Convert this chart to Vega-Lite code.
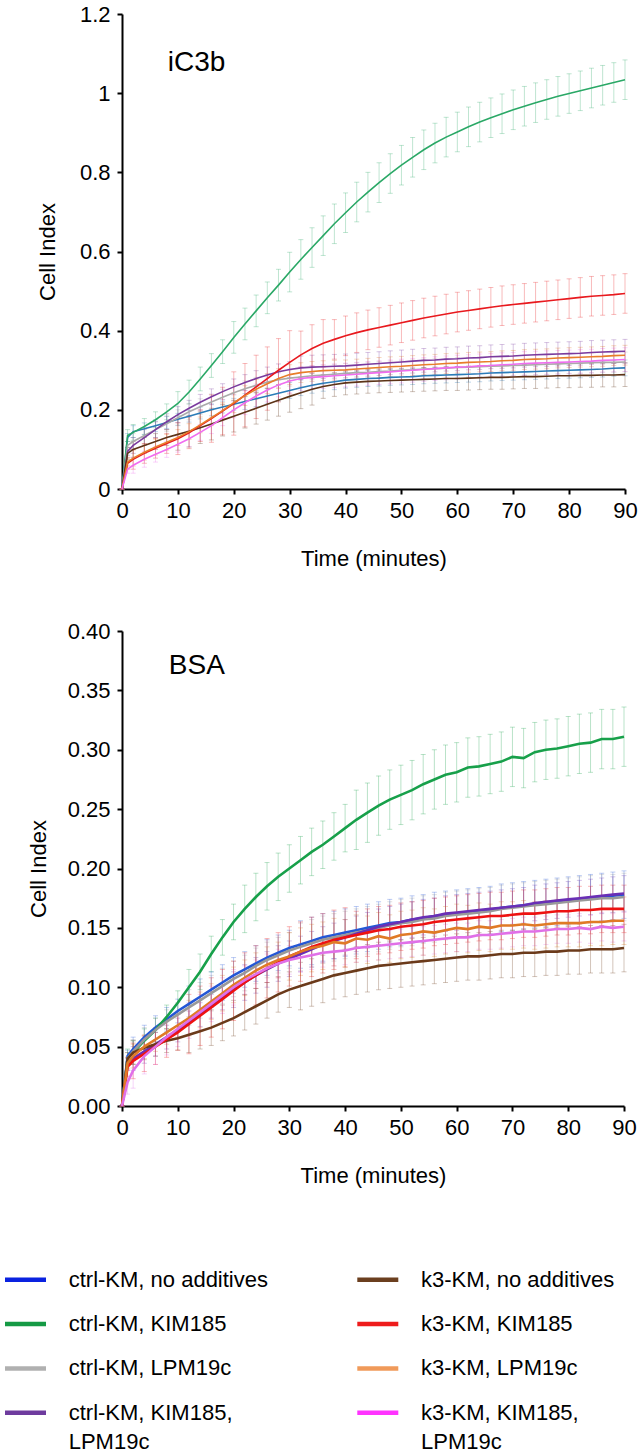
{
"$schema": "https://vega.github.io/schema/vega-lite/v6.json",
"padding": {"left": -4, "top": 3, "right": 3, "bottom": 0},
"background": "white",
"config": {
  "view": {"stroke": null},
  "font": "Liberation Sans",
  "axis": {"domainColor": "#000", "domainWidth": 2, "tickColor": "#000", "tickWidth": 2, "tickSize": 5, "labelFontSize": 22, "labelColor": "#000", "titleFontSize": 22, "titleFontWeight": "normal", "titleColor": "#000", "grid": false, "labelPadding": 6},
  "axisX": {"titlePadding": 27, "labelFlush": false},
  "axisY": {"labelPadding": 7}
},
"datasets": {
"a": [
{"s":"c1","t":0,"v":0,"e":0},{"s":"c1","t":1,"v":0.13,"e":0.01},{"s":"c1","t":2,"v":0.145,"e":0.015},{"s":"c1","t":4,"v":0.152,"e":0.015},{"s":"c1","t":6,"v":0.16,"e":0.015},{"s":"c1","t":8,"v":0.168,"e":0.015},{"s":"c1","t":10,"v":0.176,"e":0.015},{"s":"c1","t":12,"v":0.184,"e":0.015},{"s":"c1","t":14,"v":0.192,"e":0.015},{"s":"c1","t":16,"v":0.2,"e":0.015},{"s":"c1","t":18,"v":0.207,"e":0.015},{"s":"c1","t":20,"v":0.214,"e":0.015},{"s":"c1","t":22,"v":0.221,"e":0.02},{"s":"c1","t":24,"v":0.228,"e":0.02},{"s":"c1","t":26,"v":0.235,"e":0.02},{"s":"c1","t":28,"v":0.242,"e":0.02},{"s":"c1","t":30,"v":0.249,"e":0.02},{"s":"c1","t":32,"v":0.256,"e":0.02},{"s":"c1","t":34,"v":0.262,"e":0.02},{"s":"c1","t":36,"v":0.267,"e":0.02},{"s":"c1","t":38,"v":0.271,"e":0.02},{"s":"c1","t":40,"v":0.275,"e":0.02},{"s":"c1","t":42,"v":0.277,"e":0.02},{"s":"c1","t":44,"v":0.279,"e":0.02},{"s":"c1","t":46,"v":0.28,"e":0.02},{"s":"c1","t":48,"v":0.282,"e":0.02},{"s":"c1","t":50,"v":0.283,"e":0.02},{"s":"c1","t":52,"v":0.284,"e":0.02},{"s":"c1","t":54,"v":0.286,"e":0.02},{"s":"c1","t":56,"v":0.287,"e":0.02},{"s":"c1","t":58,"v":0.288,"e":0.02},{"s":"c1","t":60,"v":0.289,"e":0.02},{"s":"c1","t":62,"v":0.29,"e":0.02},{"s":"c1","t":64,"v":0.291,"e":0.02},{"s":"c1","t":66,"v":0.293,"e":0.02},{"s":"c1","t":68,"v":0.294,"e":0.02},{"s":"c1","t":70,"v":0.295,"e":0.02},{"s":"c1","t":72,"v":0.296,"e":0.02},{"s":"c1","t":74,"v":0.297,"e":0.02},{"s":"c1","t":76,"v":0.298,"e":0.02},{"s":"c1","t":78,"v":0.299,"e":0.02},{"s":"c1","t":80,"v":0.3,"e":0.02},{"s":"c1","t":82,"v":0.301,"e":0.02},{"s":"c1","t":84,"v":0.302,"e":0.02},{"s":"c1","t":86,"v":0.303,"e":0.02},{"s":"c1","t":88,"v":0.305,"e":0.02},{"s":"c1","t":90,"v":0.306,"e":0.02},
{"s":"c2","t":0,"v":0,"e":0},{"s":"c2","t":1,"v":0.135,"e":0.015},{"s":"c2","t":2,"v":0.143,"e":0.02},{"s":"c2","t":4,"v":0.158,"e":0.02},{"s":"c2","t":6,"v":0.175,"e":0.02},{"s":"c2","t":8,"v":0.195,"e":0.02},{"s":"c2","t":10,"v":0.216,"e":0.03},{"s":"c2","t":12,"v":0.245,"e":0.03},{"s":"c2","t":14,"v":0.278,"e":0.03},{"s":"c2","t":16,"v":0.312,"e":0.03},{"s":"c2","t":18,"v":0.347,"e":0.03},{"s":"c2","t":20,"v":0.383,"e":0.04},{"s":"c2","t":22,"v":0.417,"e":0.04},{"s":"c2","t":24,"v":0.45,"e":0.04},{"s":"c2","t":26,"v":0.483,"e":0.04},{"s":"c2","t":28,"v":0.515,"e":0.04},{"s":"c2","t":30,"v":0.548,"e":0.05},{"s":"c2","t":32,"v":0.58,"e":0.05},{"s":"c2","t":34,"v":0.61,"e":0.05},{"s":"c2","t":36,"v":0.64,"e":0.05},{"s":"c2","t":38,"v":0.67,"e":0.05},{"s":"c2","t":40,"v":0.698,"e":0.05},{"s":"c2","t":42,"v":0.725,"e":0.05},{"s":"c2","t":44,"v":0.75,"e":0.05},{"s":"c2","t":46,"v":0.774,"e":0.05},{"s":"c2","t":48,"v":0.797,"e":0.05},{"s":"c2","t":50,"v":0.818,"e":0.05},{"s":"c2","t":52,"v":0.838,"e":0.05},{"s":"c2","t":54,"v":0.857,"e":0.05},{"s":"c2","t":56,"v":0.874,"e":0.05},{"s":"c2","t":58,"v":0.889,"e":0.05},{"s":"c2","t":60,"v":0.902,"e":0.05},{"s":"c2","t":62,"v":0.915,"e":0.05},{"s":"c2","t":64,"v":0.927,"e":0.05},{"s":"c2","t":66,"v":0.938,"e":0.05},{"s":"c2","t":68,"v":0.948,"e":0.05},{"s":"c2","t":70,"v":0.958,"e":0.05},{"s":"c2","t":72,"v":0.967,"e":0.05},{"s":"c2","t":74,"v":0.976,"e":0.05},{"s":"c2","t":76,"v":0.984,"e":0.05},{"s":"c2","t":78,"v":0.992,"e":0.05},{"s":"c2","t":80,"v":0.999,"e":0.05},{"s":"c2","t":82,"v":1.006,"e":0.05},{"s":"c2","t":84,"v":1.013,"e":0.05},{"s":"c2","t":86,"v":1.02,"e":0.05},{"s":"c2","t":88,"v":1.027,"e":0.05},{"s":"c2","t":90,"v":1.034,"e":0.05},
{"s":"c3","t":0,"v":0,"e":0},{"s":"c3","t":1,"v":0.11,"e":0.01},{"s":"c3","t":2,"v":0.12,"e":0.02},{"s":"c3","t":4,"v":0.135,"e":0.02},{"s":"c3","t":6,"v":0.15,"e":0.02},{"s":"c3","t":8,"v":0.165,"e":0.02},{"s":"c3","t":10,"v":0.18,"e":0.02},{"s":"c3","t":12,"v":0.195,"e":0.02},{"s":"c3","t":14,"v":0.208,"e":0.02},{"s":"c3","t":16,"v":0.22,"e":0.02},{"s":"c3","t":18,"v":0.232,"e":0.02},{"s":"c3","t":20,"v":0.243,"e":0.02},{"s":"c3","t":22,"v":0.253,"e":0.02},{"s":"c3","t":24,"v":0.262,"e":0.02},{"s":"c3","t":26,"v":0.27,"e":0.02},{"s":"c3","t":28,"v":0.276,"e":0.02},{"s":"c3","t":30,"v":0.28,"e":0.02},{"s":"c3","t":32,"v":0.283,"e":0.025},{"s":"c3","t":34,"v":0.286,"e":0.025},{"s":"c3","t":36,"v":0.288,"e":0.025},{"s":"c3","t":38,"v":0.29,"e":0.025},{"s":"c3","t":40,"v":0.292,"e":0.025},{"s":"c3","t":42,"v":0.294,"e":0.025},{"s":"c3","t":44,"v":0.295,"e":0.025},{"s":"c3","t":46,"v":0.297,"e":0.025},{"s":"c3","t":48,"v":0.298,"e":0.025},{"s":"c3","t":50,"v":0.3,"e":0.025},{"s":"c3","t":52,"v":0.301,"e":0.025},{"s":"c3","t":54,"v":0.303,"e":0.025},{"s":"c3","t":56,"v":0.304,"e":0.025},{"s":"c3","t":58,"v":0.305,"e":0.025},{"s":"c3","t":60,"v":0.307,"e":0.025},{"s":"c3","t":62,"v":0.308,"e":0.025},{"s":"c3","t":64,"v":0.309,"e":0.025},{"s":"c3","t":66,"v":0.31,"e":0.025},{"s":"c3","t":68,"v":0.311,"e":0.025},{"s":"c3","t":70,"v":0.312,"e":0.025},{"s":"c3","t":72,"v":0.313,"e":0.025},{"s":"c3","t":74,"v":0.314,"e":0.025},{"s":"c3","t":76,"v":0.315,"e":0.025},{"s":"c3","t":78,"v":0.316,"e":0.025},{"s":"c3","t":80,"v":0.317,"e":0.025},{"s":"c3","t":82,"v":0.318,"e":0.025},{"s":"c3","t":84,"v":0.319,"e":0.025},{"s":"c3","t":86,"v":0.32,"e":0.025},{"s":"c3","t":88,"v":0.32,"e":0.025},{"s":"c3","t":90,"v":0.321,"e":0.025},
{"s":"c4","t":0,"v":0,"e":0},{"s":"c4","t":1,"v":0.095,"e":0.01},{"s":"c4","t":2,"v":0.11,"e":0.02},{"s":"c4","t":4,"v":0.13,"e":0.02},{"s":"c4","t":6,"v":0.15,"e":0.02},{"s":"c4","t":8,"v":0.17,"e":0.02},{"s":"c4","t":10,"v":0.188,"e":0.02},{"s":"c4","t":12,"v":0.204,"e":0.02},{"s":"c4","t":14,"v":0.219,"e":0.02},{"s":"c4","t":16,"v":0.233,"e":0.02},{"s":"c4","t":18,"v":0.246,"e":0.02},{"s":"c4","t":20,"v":0.258,"e":0.02},{"s":"c4","t":22,"v":0.269,"e":0.02},{"s":"c4","t":24,"v":0.279,"e":0.02},{"s":"c4","t":26,"v":0.288,"e":0.02},{"s":"c4","t":28,"v":0.296,"e":0.02},{"s":"c4","t":30,"v":0.302,"e":0.02},{"s":"c4","t":32,"v":0.306,"e":0.03},{"s":"c4","t":34,"v":0.308,"e":0.03},{"s":"c4","t":36,"v":0.309,"e":0.03},{"s":"c4","t":38,"v":0.31,"e":0.03},{"s":"c4","t":40,"v":0.311,"e":0.03},{"s":"c4","t":42,"v":0.313,"e":0.03},{"s":"c4","t":44,"v":0.315,"e":0.03},{"s":"c4","t":46,"v":0.317,"e":0.03},{"s":"c4","t":48,"v":0.319,"e":0.03},{"s":"c4","t":50,"v":0.321,"e":0.03},{"s":"c4","t":52,"v":0.323,"e":0.03},{"s":"c4","t":54,"v":0.325,"e":0.03},{"s":"c4","t":56,"v":0.326,"e":0.03},{"s":"c4","t":58,"v":0.328,"e":0.03},{"s":"c4","t":60,"v":0.329,"e":0.03},{"s":"c4","t":62,"v":0.331,"e":0.03},{"s":"c4","t":64,"v":0.332,"e":0.03},{"s":"c4","t":66,"v":0.334,"e":0.03},{"s":"c4","t":68,"v":0.335,"e":0.03},{"s":"c4","t":70,"v":0.336,"e":0.03},{"s":"c4","t":72,"v":0.338,"e":0.03},{"s":"c4","t":74,"v":0.339,"e":0.03},{"s":"c4","t":76,"v":0.34,"e":0.03},{"s":"c4","t":78,"v":0.341,"e":0.03},{"s":"c4","t":80,"v":0.342,"e":0.03},{"s":"c4","t":82,"v":0.343,"e":0.03},{"s":"c4","t":84,"v":0.345,"e":0.03},{"s":"c4","t":86,"v":0.346,"e":0.03},{"s":"c4","t":88,"v":0.347,"e":0.03},{"s":"c4","t":90,"v":0.348,"e":0.03},
{"s":"k1","t":0,"v":0,"e":0},{"s":"k1","t":1,"v":0.09,"e":0.015},{"s":"k1","t":2,"v":0.1,"e":0.02},{"s":"k1","t":4,"v":0.11,"e":0.02},{"s":"k1","t":6,"v":0.12,"e":0.02},{"s":"k1","t":8,"v":0.13,"e":0.02},{"s":"k1","t":10,"v":0.138,"e":0.04},{"s":"k1","t":12,"v":0.146,"e":0.04},{"s":"k1","t":14,"v":0.155,"e":0.04},{"s":"k1","t":16,"v":0.164,"e":0.04},{"s":"k1","t":18,"v":0.174,"e":0.04},{"s":"k1","t":20,"v":0.184,"e":0.04},{"s":"k1","t":22,"v":0.194,"e":0.04},{"s":"k1","t":24,"v":0.204,"e":0.04},{"s":"k1","t":26,"v":0.214,"e":0.04},{"s":"k1","t":28,"v":0.224,"e":0.04},{"s":"k1","t":30,"v":0.234,"e":0.04},{"s":"k1","t":32,"v":0.243,"e":0.04},{"s":"k1","t":34,"v":0.252,"e":0.04},{"s":"k1","t":36,"v":0.259,"e":0.03},{"s":"k1","t":38,"v":0.264,"e":0.03},{"s":"k1","t":40,"v":0.268,"e":0.03},{"s":"k1","t":42,"v":0.27,"e":0.03},{"s":"k1","t":44,"v":0.272,"e":0.03},{"s":"k1","t":46,"v":0.273,"e":0.03},{"s":"k1","t":48,"v":0.274,"e":0.03},{"s":"k1","t":50,"v":0.275,"e":0.03},{"s":"k1","t":52,"v":0.276,"e":0.03},{"s":"k1","t":54,"v":0.277,"e":0.03},{"s":"k1","t":56,"v":0.278,"e":0.03},{"s":"k1","t":58,"v":0.279,"e":0.03},{"s":"k1","t":60,"v":0.279,"e":0.03},{"s":"k1","t":62,"v":0.28,"e":0.03},{"s":"k1","t":64,"v":0.281,"e":0.03},{"s":"k1","t":66,"v":0.282,"e":0.03},{"s":"k1","t":68,"v":0.282,"e":0.03},{"s":"k1","t":70,"v":0.283,"e":0.03},{"s":"k1","t":72,"v":0.284,"e":0.03},{"s":"k1","t":74,"v":0.284,"e":0.03},{"s":"k1","t":76,"v":0.285,"e":0.03},{"s":"k1","t":78,"v":0.286,"e":0.03},{"s":"k1","t":80,"v":0.286,"e":0.03},{"s":"k1","t":82,"v":0.287,"e":0.03},{"s":"k1","t":84,"v":0.287,"e":0.03},{"s":"k1","t":86,"v":0.288,"e":0.03},{"s":"k1","t":88,"v":0.288,"e":0.03},{"s":"k1","t":90,"v":0.289,"e":0.03},
{"s":"k2","t":0,"v":0,"e":0},{"s":"k2","t":1,"v":0.065,"e":0.015},{"s":"k2","t":2,"v":0.075,"e":0.025},{"s":"k2","t":4,"v":0.09,"e":0.025},{"s":"k2","t":6,"v":0.103,"e":0.025},{"s":"k2","t":8,"v":0.115,"e":0.025},{"s":"k2","t":10,"v":0.127,"e":0.04},{"s":"k2","t":12,"v":0.142,"e":0.04},{"s":"k2","t":14,"v":0.16,"e":0.04},{"s":"k2","t":16,"v":0.178,"e":0.06},{"s":"k2","t":18,"v":0.197,"e":0.06},{"s":"k2","t":20,"v":0.216,"e":0.08},{"s":"k2","t":22,"v":0.237,"e":0.08},{"s":"k2","t":24,"v":0.258,"e":0.08},{"s":"k2","t":26,"v":0.279,"e":0.08},{"s":"k2","t":28,"v":0.3,"e":0.08},{"s":"k2","t":30,"v":0.32,"e":0.08},{"s":"k2","t":32,"v":0.339,"e":0.06},{"s":"k2","t":34,"v":0.355,"e":0.06},{"s":"k2","t":36,"v":0.368,"e":0.06},{"s":"k2","t":38,"v":0.378,"e":0.05},{"s":"k2","t":40,"v":0.387,"e":0.05},{"s":"k2","t":42,"v":0.395,"e":0.05},{"s":"k2","t":44,"v":0.402,"e":0.05},{"s":"k2","t":46,"v":0.408,"e":0.05},{"s":"k2","t":48,"v":0.414,"e":0.05},{"s":"k2","t":50,"v":0.42,"e":0.05},{"s":"k2","t":52,"v":0.426,"e":0.05},{"s":"k2","t":54,"v":0.432,"e":0.05},{"s":"k2","t":56,"v":0.437,"e":0.05},{"s":"k2","t":58,"v":0.442,"e":0.05},{"s":"k2","t":60,"v":0.447,"e":0.05},{"s":"k2","t":62,"v":0.451,"e":0.05},{"s":"k2","t":64,"v":0.455,"e":0.05},{"s":"k2","t":66,"v":0.459,"e":0.05},{"s":"k2","t":68,"v":0.463,"e":0.05},{"s":"k2","t":70,"v":0.466,"e":0.05},{"s":"k2","t":72,"v":0.469,"e":0.05},{"s":"k2","t":74,"v":0.472,"e":0.05},{"s":"k2","t":76,"v":0.475,"e":0.05},{"s":"k2","t":78,"v":0.478,"e":0.05},{"s":"k2","t":80,"v":0.481,"e":0.05},{"s":"k2","t":82,"v":0.484,"e":0.05},{"s":"k2","t":84,"v":0.487,"e":0.05},{"s":"k2","t":86,"v":0.489,"e":0.05},{"s":"k2","t":88,"v":0.491,"e":0.05},{"s":"k2","t":90,"v":0.494,"e":0.05},
{"s":"k3","t":0,"v":0,"e":0},{"s":"k3","t":1,"v":0.068,"e":0.01},{"s":"k3","t":2,"v":0.078,"e":0.02},{"s":"k3","t":4,"v":0.093,"e":0.02},{"s":"k3","t":6,"v":0.106,"e":0.02},{"s":"k3","t":8,"v":0.118,"e":0.02},{"s":"k3","t":10,"v":0.13,"e":0.02},{"s":"k3","t":12,"v":0.145,"e":0.02},{"s":"k3","t":14,"v":0.162,"e":0.02},{"s":"k3","t":16,"v":0.18,"e":0.02},{"s":"k3","t":18,"v":0.198,"e":0.02},{"s":"k3","t":20,"v":0.218,"e":0.025},{"s":"k3","t":22,"v":0.236,"e":0.025},{"s":"k3","t":24,"v":0.252,"e":0.025},{"s":"k3","t":26,"v":0.266,"e":0.025},{"s":"k3","t":28,"v":0.279,"e":0.025},{"s":"k3","t":30,"v":0.289,"e":0.025},{"s":"k3","t":32,"v":0.294,"e":0.025},{"s":"k3","t":34,"v":0.297,"e":0.025},{"s":"k3","t":36,"v":0.299,"e":0.025},{"s":"k3","t":38,"v":0.3,"e":0.025},{"s":"k3","t":40,"v":0.301,"e":0.025},{"s":"k3","t":42,"v":0.303,"e":0.025},{"s":"k3","t":44,"v":0.305,"e":0.025},{"s":"k3","t":46,"v":0.307,"e":0.025},{"s":"k3","t":48,"v":0.309,"e":0.025},{"s":"k3","t":50,"v":0.31,"e":0.025},{"s":"k3","t":52,"v":0.312,"e":0.025},{"s":"k3","t":54,"v":0.314,"e":0.025},{"s":"k3","t":56,"v":0.315,"e":0.025},{"s":"k3","t":58,"v":0.317,"e":0.025},{"s":"k3","t":60,"v":0.318,"e":0.025},{"s":"k3","t":62,"v":0.32,"e":0.025},{"s":"k3","t":64,"v":0.321,"e":0.025},{"s":"k3","t":66,"v":0.322,"e":0.025},{"s":"k3","t":68,"v":0.324,"e":0.025},{"s":"k3","t":70,"v":0.325,"e":0.025},{"s":"k3","t":72,"v":0.327,"e":0.025},{"s":"k3","t":74,"v":0.328,"e":0.025},{"s":"k3","t":76,"v":0.329,"e":0.025},{"s":"k3","t":78,"v":0.331,"e":0.025},{"s":"k3","t":80,"v":0.332,"e":0.025},{"s":"k3","t":82,"v":0.333,"e":0.025},{"s":"k3","t":84,"v":0.334,"e":0.025},{"s":"k3","t":86,"v":0.335,"e":0.025},{"s":"k3","t":88,"v":0.337,"e":0.025},{"s":"k3","t":90,"v":0.338,"e":0.025},
{"s":"k4","t":0,"v":0,"e":0},{"s":"k4","t":1,"v":0.05,"e":0.01},{"s":"k4","t":2,"v":0.06,"e":0.02},{"s":"k4","t":4,"v":0.075,"e":0.02},{"s":"k4","t":6,"v":0.088,"e":0.02},{"s":"k4","t":8,"v":0.1,"e":0.02},{"s":"k4","t":10,"v":0.113,"e":0.02},{"s":"k4","t":12,"v":0.127,"e":0.02},{"s":"k4","t":14,"v":0.143,"e":0.02},{"s":"k4","t":16,"v":0.16,"e":0.02},{"s":"k4","t":18,"v":0.18,"e":0.02},{"s":"k4","t":20,"v":0.2,"e":0.02},{"s":"k4","t":22,"v":0.218,"e":0.03},{"s":"k4","t":24,"v":0.235,"e":0.03},{"s":"k4","t":26,"v":0.25,"e":0.03},{"s":"k4","t":28,"v":0.263,"e":0.03},{"s":"k4","t":30,"v":0.273,"e":0.03},{"s":"k4","t":32,"v":0.279,"e":0.03},{"s":"k4","t":34,"v":0.282,"e":0.03},{"s":"k4","t":36,"v":0.284,"e":0.03},{"s":"k4","t":38,"v":0.286,"e":0.03},{"s":"k4","t":40,"v":0.288,"e":0.03},{"s":"k4","t":42,"v":0.29,"e":0.03},{"s":"k4","t":44,"v":0.292,"e":0.03},{"s":"k4","t":46,"v":0.294,"e":0.03},{"s":"k4","t":48,"v":0.296,"e":0.03},{"s":"k4","t":50,"v":0.298,"e":0.03},{"s":"k4","t":52,"v":0.3,"e":0.03},{"s":"k4","t":54,"v":0.302,"e":0.03},{"s":"k4","t":56,"v":0.304,"e":0.03},{"s":"k4","t":58,"v":0.306,"e":0.03},{"s":"k4","t":60,"v":0.308,"e":0.03},{"s":"k4","t":62,"v":0.309,"e":0.03},{"s":"k4","t":64,"v":0.311,"e":0.03},{"s":"k4","t":66,"v":0.312,"e":0.03},{"s":"k4","t":68,"v":0.314,"e":0.03},{"s":"k4","t":70,"v":0.315,"e":0.03},{"s":"k4","t":72,"v":0.317,"e":0.03},{"s":"k4","t":74,"v":0.318,"e":0.03},{"s":"k4","t":76,"v":0.319,"e":0.03},{"s":"k4","t":78,"v":0.32,"e":0.03},{"s":"k4","t":80,"v":0.321,"e":0.03},{"s":"k4","t":82,"v":0.322,"e":0.03},{"s":"k4","t":84,"v":0.323,"e":0.03},{"s":"k4","t":86,"v":0.325,"e":0.03},{"s":"k4","t":88,"v":0.326,"e":0.03},{"s":"k4","t":90,"v":0.327,"e":0.03}
],
"b": [
{"s":"c1","t":0,"v":0,"e":0},{"s":"c1","t":1,"v":0.042,"e":0.005},{"s":"c1","t":2,"v":0.048,"e":0.01},{"s":"c1","t":4,"v":0.058,"e":0.01},{"s":"c1","t":6,"v":0.066,"e":0.01},{"s":"c1","t":8,"v":0.073,"e":0.01},{"s":"c1","t":10,"v":0.08,"e":0.01},{"s":"c1","t":12,"v":0.086,"e":0.015},{"s":"c1","t":14,"v":0.092,"e":0.015},{"s":"c1","t":16,"v":0.098,"e":0.015},{"s":"c1","t":18,"v":0.104,"e":0.015},{"s":"c1","t":20,"v":0.11,"e":0.015},{"s":"c1","t":22,"v":0.115,"e":0.015},{"s":"c1","t":24,"v":0.12,"e":0.015},{"s":"c1","t":26,"v":0.125,"e":0.015},{"s":"c1","t":28,"v":0.129,"e":0.015},{"s":"c1","t":30,"v":0.133,"e":0.015},{"s":"c1","t":32,"v":0.136,"e":0.02},{"s":"c1","t":34,"v":0.139,"e":0.02},{"s":"c1","t":36,"v":0.142,"e":0.02},{"s":"c1","t":38,"v":0.144,"e":0.02},{"s":"c1","t":40,"v":0.146,"e":0.02},{"s":"c1","t":42,"v":0.148,"e":0.02},{"s":"c1","t":44,"v":0.15,"e":0.02},{"s":"c1","t":46,"v":0.152,"e":0.02},{"s":"c1","t":48,"v":0.154,"e":0.02},{"s":"c1","t":50,"v":0.155,"e":0.02},{"s":"c1","t":52,"v":0.157,"e":0.02},{"s":"c1","t":54,"v":0.158,"e":0.02},{"s":"c1","t":56,"v":0.16,"e":0.02},{"s":"c1","t":58,"v":0.161,"e":0.02},{"s":"c1","t":60,"v":0.162,"e":0.02},{"s":"c1","t":62,"v":0.163,"e":0.02},{"s":"c1","t":64,"v":0.164,"e":0.02},{"s":"c1","t":66,"v":0.165,"e":0.02},{"s":"c1","t":68,"v":0.167,"e":0.02},{"s":"c1","t":70,"v":0.168,"e":0.02},{"s":"c1","t":72,"v":0.169,"e":0.02},{"s":"c1","t":74,"v":0.17,"e":0.02},{"s":"c1","t":76,"v":0.171,"e":0.02},{"s":"c1","t":78,"v":0.172,"e":0.02},{"s":"c1","t":80,"v":0.173,"e":0.02},{"s":"c1","t":82,"v":0.174,"e":0.02},{"s":"c1","t":84,"v":0.175,"e":0.02},{"s":"c1","t":86,"v":0.176,"e":0.02},{"s":"c1","t":88,"v":0.177,"e":0.02},{"s":"c1","t":90,"v":0.178,"e":0.02},
{"s":"c2","t":0,"v":0,"e":0},{"s":"c2","t":1,"v":0.04,"e":0.008},{"s":"c2","t":2,"v":0.045,"e":0.01},{"s":"c2","t":4,"v":0.055,"e":0.01},{"s":"c2","t":6,"v":0.064,"e":0.01},{"s":"c2","t":8,"v":0.075,"e":0.01},{"s":"c2","t":10,"v":0.087,"e":0.01},{"s":"c2","t":12,"v":0.1,"e":0.015},{"s":"c2","t":14,"v":0.113,"e":0.015},{"s":"c2","t":16,"v":0.128,"e":0.015},{"s":"c2","t":18,"v":0.142,"e":0.015},{"s":"c2","t":20,"v":0.155,"e":0.015},{"s":"c2","t":22,"v":0.166,"e":0.02},{"s":"c2","t":24,"v":0.176,"e":0.02},{"s":"c2","t":26,"v":0.185,"e":0.02},{"s":"c2","t":28,"v":0.193,"e":0.02},{"s":"c2","t":30,"v":0.2,"e":0.02},{"s":"c2","t":32,"v":0.207,"e":0.02},{"s":"c2","t":34,"v":0.214,"e":0.02},{"s":"c2","t":36,"v":0.22,"e":0.02},{"s":"c2","t":38,"v":0.227,"e":0.02},{"s":"c2","t":40,"v":0.234,"e":0.02},{"s":"c2","t":42,"v":0.241,"e":0.025},{"s":"c2","t":44,"v":0.247,"e":0.025},{"s":"c2","t":46,"v":0.253,"e":0.025},{"s":"c2","t":48,"v":0.258,"e":0.025},{"s":"c2","t":50,"v":0.262,"e":0.025},{"s":"c2","t":52,"v":0.266,"e":0.025},{"s":"c2","t":54,"v":0.271,"e":0.025},{"s":"c2","t":56,"v":0.275,"e":0.025},{"s":"c2","t":58,"v":0.279,"e":0.025},{"s":"c2","t":60,"v":0.281,"e":0.025},{"s":"c2","t":62,"v":0.285,"e":0.025},{"s":"c2","t":64,"v":0.286,"e":0.025},{"s":"c2","t":66,"v":0.288,"e":0.025},{"s":"c2","t":68,"v":0.29,"e":0.025},{"s":"c2","t":70,"v":0.294,"e":0.025},{"s":"c2","t":72,"v":0.293,"e":0.025},{"s":"c2","t":74,"v":0.298,"e":0.025},{"s":"c2","t":76,"v":0.3,"e":0.025},{"s":"c2","t":78,"v":0.301,"e":0.025},{"s":"c2","t":80,"v":0.303,"e":0.025},{"s":"c2","t":82,"v":0.305,"e":0.025},{"s":"c2","t":84,"v":0.306,"e":0.025},{"s":"c2","t":86,"v":0.309,"e":0.025},{"s":"c2","t":88,"v":0.309,"e":0.025},{"s":"c2","t":90,"v":0.311,"e":0.025},
{"s":"c3","t":0,"v":0,"e":0},{"s":"c3","t":1,"v":0.04,"e":0.005},{"s":"c3","t":2,"v":0.046,"e":0.01},{"s":"c3","t":4,"v":0.056,"e":0.01},{"s":"c3","t":6,"v":0.064,"e":0.01},{"s":"c3","t":8,"v":0.071,"e":0.01},{"s":"c3","t":10,"v":0.077,"e":0.01},{"s":"c3","t":12,"v":0.083,"e":0.015},{"s":"c3","t":14,"v":0.089,"e":0.015},{"s":"c3","t":16,"v":0.095,"e":0.015},{"s":"c3","t":18,"v":0.101,"e":0.015},{"s":"c3","t":20,"v":0.107,"e":0.015},{"s":"c3","t":22,"v":0.112,"e":0.015},{"s":"c3","t":24,"v":0.118,"e":0.015},{"s":"c3","t":26,"v":0.123,"e":0.015},{"s":"c3","t":28,"v":0.127,"e":0.015},{"s":"c3","t":30,"v":0.131,"e":0.015},{"s":"c3","t":32,"v":0.134,"e":0.02},{"s":"c3","t":34,"v":0.137,"e":0.02},{"s":"c3","t":36,"v":0.14,"e":0.02},{"s":"c3","t":38,"v":0.142,"e":0.02},{"s":"c3","t":40,"v":0.144,"e":0.02},{"s":"c3","t":42,"v":0.146,"e":0.02},{"s":"c3","t":44,"v":0.148,"e":0.02},{"s":"c3","t":46,"v":0.15,"e":0.02},{"s":"c3","t":48,"v":0.152,"e":0.02},{"s":"c3","t":50,"v":0.154,"e":0.02},{"s":"c3","t":52,"v":0.155,"e":0.02},{"s":"c3","t":54,"v":0.157,"e":0.02},{"s":"c3","t":56,"v":0.158,"e":0.02},{"s":"c3","t":58,"v":0.16,"e":0.02},{"s":"c3","t":60,"v":0.161,"e":0.02},{"s":"c3","t":62,"v":0.162,"e":0.02},{"s":"c3","t":64,"v":0.163,"e":0.02},{"s":"c3","t":66,"v":0.164,"e":0.02},{"s":"c3","t":68,"v":0.166,"e":0.02},{"s":"c3","t":70,"v":0.167,"e":0.02},{"s":"c3","t":72,"v":0.168,"e":0.02},{"s":"c3","t":74,"v":0.169,"e":0.02},{"s":"c3","t":76,"v":0.17,"e":0.02},{"s":"c3","t":78,"v":0.171,"e":0.02},{"s":"c3","t":80,"v":0.172,"e":0.02},{"s":"c3","t":82,"v":0.173,"e":0.02},{"s":"c3","t":84,"v":0.174,"e":0.02},{"s":"c3","t":86,"v":0.175,"e":0.02},{"s":"c3","t":88,"v":0.175,"e":0.02},{"s":"c3","t":90,"v":0.176,"e":0.02},
{"s":"c4","t":0,"v":0,"e":0},{"s":"c4","t":1,"v":0.035,"e":0.005},{"s":"c4","t":2,"v":0.04,"e":0.01},{"s":"c4","t":4,"v":0.046,"e":0.01},{"s":"c4","t":6,"v":0.052,"e":0.01},{"s":"c4","t":8,"v":0.058,"e":0.01},{"s":"c4","t":10,"v":0.064,"e":0.01},{"s":"c4","t":12,"v":0.07,"e":0.01},{"s":"c4","t":14,"v":0.077,"e":0.01},{"s":"c4","t":16,"v":0.084,"e":0.01},{"s":"c4","t":18,"v":0.091,"e":0.01},{"s":"c4","t":20,"v":0.098,"e":0.015},{"s":"c4","t":22,"v":0.104,"e":0.015},{"s":"c4","t":24,"v":0.11,"e":0.015},{"s":"c4","t":26,"v":0.115,"e":0.015},{"s":"c4","t":28,"v":0.12,"e":0.015},{"s":"c4","t":30,"v":0.124,"e":0.015},{"s":"c4","t":32,"v":0.128,"e":0.015},{"s":"c4","t":34,"v":0.132,"e":0.015},{"s":"c4","t":36,"v":0.136,"e":0.015},{"s":"c4","t":38,"v":0.139,"e":0.015},{"s":"c4","t":40,"v":0.142,"e":0.015},{"s":"c4","t":42,"v":0.145,"e":0.015},{"s":"c4","t":44,"v":0.148,"e":0.015},{"s":"c4","t":46,"v":0.151,"e":0.015},{"s":"c4","t":48,"v":0.153,"e":0.015},{"s":"c4","t":50,"v":0.155,"e":0.015},{"s":"c4","t":52,"v":0.157,"e":0.015},{"s":"c4","t":54,"v":0.159,"e":0.015},{"s":"c4","t":56,"v":0.16,"e":0.015},{"s":"c4","t":58,"v":0.162,"e":0.015},{"s":"c4","t":60,"v":0.163,"e":0.015},{"s":"c4","t":62,"v":0.164,"e":0.015},{"s":"c4","t":64,"v":0.165,"e":0.015},{"s":"c4","t":66,"v":0.166,"e":0.015},{"s":"c4","t":68,"v":0.167,"e":0.015},{"s":"c4","t":70,"v":0.168,"e":0.015},{"s":"c4","t":72,"v":0.169,"e":0.015},{"s":"c4","t":74,"v":0.171,"e":0.015},{"s":"c4","t":76,"v":0.172,"e":0.015},{"s":"c4","t":78,"v":0.173,"e":0.015},{"s":"c4","t":80,"v":0.174,"e":0.015},{"s":"c4","t":82,"v":0.175,"e":0.015},{"s":"c4","t":84,"v":0.176,"e":0.015},{"s":"c4","t":86,"v":0.177,"e":0.015},{"s":"c4","t":88,"v":0.178,"e":0.015},{"s":"c4","t":90,"v":0.179,"e":0.015},
{"s":"k1","t":0,"v":0,"e":0},{"s":"k1","t":1,"v":0.04,"e":0.005},{"s":"k1","t":2,"v":0.045,"e":0.01},{"s":"k1","t":4,"v":0.049,"e":0.01},{"s":"k1","t":6,"v":0.052,"e":0.01},{"s":"k1","t":8,"v":0.055,"e":0.01},{"s":"k1","t":10,"v":0.057,"e":0.01},{"s":"k1","t":12,"v":0.06,"e":0.015},{"s":"k1","t":14,"v":0.063,"e":0.015},{"s":"k1","t":16,"v":0.066,"e":0.015},{"s":"k1","t":18,"v":0.07,"e":0.015},{"s":"k1","t":20,"v":0.074,"e":0.015},{"s":"k1","t":22,"v":0.079,"e":0.015},{"s":"k1","t":24,"v":0.084,"e":0.015},{"s":"k1","t":26,"v":0.089,"e":0.015},{"s":"k1","t":28,"v":0.094,"e":0.015},{"s":"k1","t":30,"v":0.098,"e":0.015},{"s":"k1","t":32,"v":0.101,"e":0.02},{"s":"k1","t":34,"v":0.104,"e":0.02},{"s":"k1","t":36,"v":0.107,"e":0.02},{"s":"k1","t":38,"v":0.11,"e":0.02},{"s":"k1","t":40,"v":0.112,"e":0.02},{"s":"k1","t":42,"v":0.114,"e":0.02},{"s":"k1","t":44,"v":0.116,"e":0.02},{"s":"k1","t":46,"v":0.118,"e":0.02},{"s":"k1","t":48,"v":0.119,"e":0.02},{"s":"k1","t":50,"v":0.12,"e":0.02},{"s":"k1","t":52,"v":0.121,"e":0.02},{"s":"k1","t":54,"v":0.122,"e":0.02},{"s":"k1","t":56,"v":0.123,"e":0.02},{"s":"k1","t":58,"v":0.124,"e":0.02},{"s":"k1","t":60,"v":0.125,"e":0.02},{"s":"k1","t":62,"v":0.126,"e":0.02},{"s":"k1","t":64,"v":0.126,"e":0.02},{"s":"k1","t":66,"v":0.127,"e":0.02},{"s":"k1","t":68,"v":0.128,"e":0.02},{"s":"k1","t":70,"v":0.128,"e":0.02},{"s":"k1","t":72,"v":0.129,"e":0.02},{"s":"k1","t":74,"v":0.129,"e":0.02},{"s":"k1","t":76,"v":0.13,"e":0.02},{"s":"k1","t":78,"v":0.13,"e":0.02},{"s":"k1","t":80,"v":0.131,"e":0.02},{"s":"k1","t":82,"v":0.131,"e":0.02},{"s":"k1","t":84,"v":0.132,"e":0.02},{"s":"k1","t":86,"v":0.132,"e":0.02},{"s":"k1","t":88,"v":0.132,"e":0.02},{"s":"k1","t":90,"v":0.133,"e":0.02},
{"s":"k2","t":0,"v":0,"e":0},{"s":"k2","t":1,"v":0.033,"e":0.008},{"s":"k2","t":2,"v":0.038,"e":0.015},{"s":"k2","t":4,"v":0.044,"e":0.015},{"s":"k2","t":6,"v":0.05,"e":0.015},{"s":"k2","t":8,"v":0.056,"e":0.015},{"s":"k2","t":10,"v":0.062,"e":0.015},{"s":"k2","t":12,"v":0.069,"e":0.025},{"s":"k2","t":14,"v":0.076,"e":0.025},{"s":"k2","t":16,"v":0.083,"e":0.025},{"s":"k2","t":18,"v":0.09,"e":0.025},{"s":"k2","t":20,"v":0.097,"e":0.025},{"s":"k2","t":22,"v":0.104,"e":0.025},{"s":"k2","t":24,"v":0.11,"e":0.025},{"s":"k2","t":26,"v":0.116,"e":0.025},{"s":"k2","t":28,"v":0.121,"e":0.025},{"s":"k2","t":30,"v":0.126,"e":0.025},{"s":"k2","t":32,"v":0.13,"e":0.025},{"s":"k2","t":34,"v":0.134,"e":0.025},{"s":"k2","t":36,"v":0.137,"e":0.025},{"s":"k2","t":38,"v":0.14,"e":0.025},{"s":"k2","t":40,"v":0.142,"e":0.025},{"s":"k2","t":42,"v":0.144,"e":0.02},{"s":"k2","t":44,"v":0.146,"e":0.02},{"s":"k2","t":46,"v":0.148,"e":0.02},{"s":"k2","t":48,"v":0.149,"e":0.02},{"s":"k2","t":50,"v":0.151,"e":0.02},{"s":"k2","t":52,"v":0.152,"e":0.02},{"s":"k2","t":54,"v":0.153,"e":0.02},{"s":"k2","t":56,"v":0.155,"e":0.02},{"s":"k2","t":58,"v":0.156,"e":0.02},{"s":"k2","t":60,"v":0.157,"e":0.02},{"s":"k2","t":62,"v":0.158,"e":0.02},{"s":"k2","t":64,"v":0.159,"e":0.02},{"s":"k2","t":66,"v":0.16,"e":0.02},{"s":"k2","t":68,"v":0.16,"e":0.02},{"s":"k2","t":70,"v":0.161,"e":0.02},{"s":"k2","t":72,"v":0.162,"e":0.02},{"s":"k2","t":74,"v":0.162,"e":0.02},{"s":"k2","t":76,"v":0.163,"e":0.02},{"s":"k2","t":78,"v":0.164,"e":0.02},{"s":"k2","t":80,"v":0.164,"e":0.02},{"s":"k2","t":82,"v":0.165,"e":0.02},{"s":"k2","t":84,"v":0.165,"e":0.02},{"s":"k2","t":86,"v":0.166,"e":0.02},{"s":"k2","t":88,"v":0.166,"e":0.02},{"s":"k2","t":90,"v":0.166,"e":0.02},
{"s":"k3","t":0,"v":0,"e":0},{"s":"k3","t":1,"v":0.036,"e":0.005},{"s":"k3","t":2,"v":0.042,"e":0.01},{"s":"k3","t":4,"v":0.05,"e":0.01},{"s":"k3","t":6,"v":0.056,"e":0.01},{"s":"k3","t":8,"v":0.062,"e":0.01},{"s":"k3","t":10,"v":0.068,"e":0.01},{"s":"k3","t":12,"v":0.074,"e":0.015},{"s":"k3","t":14,"v":0.081,"e":0.015},{"s":"k3","t":16,"v":0.088,"e":0.015},{"s":"k3","t":18,"v":0.095,"e":0.015},{"s":"k3","t":20,"v":0.102,"e":0.015},{"s":"k3","t":22,"v":0.108,"e":0.015},{"s":"k3","t":24,"v":0.114,"e":0.015},{"s":"k3","t":26,"v":0.119,"e":0.015},{"s":"k3","t":28,"v":0.123,"e":0.015},{"s":"k3","t":30,"v":0.126,"e":0.02},{"s":"k3","t":32,"v":0.13,"e":0.02},{"s":"k3","t":34,"v":0.133,"e":0.02},{"s":"k3","t":36,"v":0.135,"e":0.02},{"s":"k3","t":38,"v":0.138,"e":0.02},{"s":"k3","t":40,"v":0.137,"e":0.02},{"s":"k3","t":42,"v":0.141,"e":0.02},{"s":"k3","t":44,"v":0.14,"e":0.02},{"s":"k3","t":46,"v":0.143,"e":0.02},{"s":"k3","t":48,"v":0.141,"e":0.02},{"s":"k3","t":50,"v":0.144,"e":0.02},{"s":"k3","t":52,"v":0.145,"e":0.02},{"s":"k3","t":54,"v":0.147,"e":0.02},{"s":"k3","t":56,"v":0.146,"e":0.02},{"s":"k3","t":58,"v":0.148,"e":0.02},{"s":"k3","t":60,"v":0.15,"e":0.02},{"s":"k3","t":62,"v":0.149,"e":0.02},{"s":"k3","t":64,"v":0.151,"e":0.02},{"s":"k3","t":66,"v":0.15,"e":0.02},{"s":"k3","t":68,"v":0.152,"e":0.02},{"s":"k3","t":70,"v":0.152,"e":0.02},{"s":"k3","t":72,"v":0.153,"e":0.02},{"s":"k3","t":74,"v":0.152,"e":0.02},{"s":"k3","t":76,"v":0.153,"e":0.02},{"s":"k3","t":78,"v":0.154,"e":0.02},{"s":"k3","t":80,"v":0.154,"e":0.02},{"s":"k3","t":82,"v":0.154,"e":0.02},{"s":"k3","t":84,"v":0.155,"e":0.02},{"s":"k3","t":86,"v":0.155,"e":0.02},{"s":"k3","t":88,"v":0.156,"e":0.02},{"s":"k3","t":90,"v":0.156,"e":0.02},
{"s":"k4","t":0,"v":0,"e":0},{"s":"k4","t":1,"v":0.02,"e":0.01},{"s":"k4","t":2,"v":0.03,"e":0.015},{"s":"k4","t":4,"v":0.042,"e":0.015},{"s":"k4","t":6,"v":0.05,"e":0.015},{"s":"k4","t":8,"v":0.058,"e":0.015},{"s":"k4","t":10,"v":0.065,"e":0.015},{"s":"k4","t":12,"v":0.072,"e":0.015},{"s":"k4","t":14,"v":0.079,"e":0.015},{"s":"k4","t":16,"v":0.086,"e":0.015},{"s":"k4","t":18,"v":0.093,"e":0.015},{"s":"k4","t":20,"v":0.1,"e":0.015},{"s":"k4","t":22,"v":0.106,"e":0.012},{"s":"k4","t":24,"v":0.111,"e":0.012},{"s":"k4","t":26,"v":0.116,"e":0.012},{"s":"k4","t":28,"v":0.12,"e":0.012},{"s":"k4","t":30,"v":0.123,"e":0.012},{"s":"k4","t":32,"v":0.125,"e":0.012},{"s":"k4","t":34,"v":0.127,"e":0.012},{"s":"k4","t":36,"v":0.129,"e":0.012},{"s":"k4","t":38,"v":0.13,"e":0.012},{"s":"k4","t":40,"v":0.131,"e":0.012},{"s":"k4","t":42,"v":0.133,"e":0.012},{"s":"k4","t":44,"v":0.134,"e":0.012},{"s":"k4","t":46,"v":0.135,"e":0.012},{"s":"k4","t":48,"v":0.136,"e":0.012},{"s":"k4","t":50,"v":0.137,"e":0.012},{"s":"k4","t":52,"v":0.138,"e":0.012},{"s":"k4","t":54,"v":0.139,"e":0.012},{"s":"k4","t":56,"v":0.14,"e":0.012},{"s":"k4","t":58,"v":0.141,"e":0.012},{"s":"k4","t":60,"v":0.142,"e":0.012},{"s":"k4","t":62,"v":0.142,"e":0.012},{"s":"k4","t":64,"v":0.144,"e":0.012},{"s":"k4","t":66,"v":0.144,"e":0.012},{"s":"k4","t":68,"v":0.145,"e":0.012},{"s":"k4","t":70,"v":0.146,"e":0.012},{"s":"k4","t":72,"v":0.147,"e":0.012},{"s":"k4","t":74,"v":0.147,"e":0.012},{"s":"k4","t":76,"v":0.148,"e":0.012},{"s":"k4","t":78,"v":0.149,"e":0.012},{"s":"k4","t":80,"v":0.149,"e":0.012},{"s":"k4","t":82,"v":0.15,"e":0.012},{"s":"k4","t":84,"v":0.149,"e":0.012},{"s":"k4","t":86,"v":0.151,"e":0.012},{"s":"k4","t":88,"v":0.15,"e":0.012},{"s":"k4","t":90,"v":0.151,"e":0.012}
],
"lg": [
{"g":"ctrl","r":1,"s":"c1","label":"ctrl-KM, no additives"},
{"g":"ctrl","r":2,"s":"c2","label":"ctrl-KM, KIM185"},
{"g":"ctrl","r":3,"s":"c3","label":"ctrl-KM, LPM19c"},
{"g":"ctrl","r":4,"s":"c4","label":"ctrl-KM, KIM185,\nLPM19c"},
{"g":"k3","r":1,"s":"k1","label":"k3-KM, no additives"},
{"g":"k3","r":2,"s":"k2","label":"k3-KM, KIM185"},
{"g":"k3","r":3,"s":"k3","label":"k3-KM, LPM19c"},
{"g":"k3","r":4,"s":"k4","label":"k3-KM, KIM185,\nLPM19c"}
],
"la": [{"n": "iC3b"}],
"lb": [{"n": "BSA"}]
},
"spacing": 51,
"resolve": {"scale": {"color": "independent", "x": "independent", "y": "independent"}},
"vconcat": [
{
  "width": 503, "height": 475,
  "layer": [
    {"data": {"name": "a"},
     "mark": {"type": "errorbar", "ticks": {"size": 5}, "opacity": 0.3, "thickness": 1},
     "encoding": {
       "x": {"field": "t", "type": "quantitative", "scale": {"domain": [0, 90], "nice": false}, "axis": {"title": "Time (minutes)", "values": [0,10,20,30,40,50,60,70,80,90]}},
       "y": {"field": "v", "type": "quantitative", "scale": {"domain": [0, 1.2], "nice": false}, "axis": {"title": "Cell Index", "values": [0,0.2,0.4,0.6,0.8,1,1.2], "format": "~g", "titlePadding": 20}},
       "yError": {"field": "e"},
       "color": {"field": "s", "type": "nominal", "scale": {"domain": ["c1","c2","c3","c4","k1","k2","k3","k4"], "range": ["#2b7cb8","#2aa866","#aaaaaa","#7a3a9e","#5c3317","#e8191e","#e87d2a","#f06cf0"]}, "legend": null}
     }},
    {"data": {"name": "a"},
     "mark": {"type": "line", "strokeWidth": 1.6},
     "encoding": {
       "x": {"field": "t", "type": "quantitative"},
       "y": {"field": "v", "type": "quantitative"},
       "color": {"field": "s", "type": "nominal", "legend": null}
     }},
    {"data": {"name": "la"},
     "mark": {"type": "text", "align": "left", "baseline": "alphabetic", "fontSize": 28, "color": "#000"},
     "encoding": {"x": {"datum": 8.2}, "y": {"datum": 1.055}, "text": {"field": "n", "type": "nominal"}}}
  ]
},
{
  "width": 502, "height": 475,
  "layer": [
    {"data": {"name": "b"},
     "mark": {"type": "errorbar", "ticks": {"size": 5}, "opacity": 0.3, "thickness": 1},
     "encoding": {
       "x": {"field": "t", "type": "quantitative", "scale": {"domain": [0, 90], "nice": false}, "axis": {"title": "Time (minutes)", "values": [0,10,20,30,40,50,60,70,80,90]}},
       "y": {"field": "v", "type": "quantitative", "scale": {"domain": [0, 0.4], "nice": false}, "axis": {"title": "Cell Index", "values": [0,0.05,0.1,0.15,0.2,0.25,0.3,0.35,0.4], "format": ".2f", "titlePadding": 17}},
       "yError": {"field": "e"},
       "color": {"field": "s", "type": "nominal", "scale": {"domain": ["c1","c2","c3","c4","k1","k2","k3","k4"], "range": ["#2457d6","#17a04a","#999999","#6a2fb5","#6b3a1a","#ee1111","#e07a26","#e070e8"]}, "legend": null}
     }},
    {"data": {"name": "b"},
     "mark": {"type": "line", "strokeWidth": 2.6},
     "encoding": {
       "x": {"field": "t", "type": "quantitative"},
       "y": {"field": "v", "type": "quantitative"},
       "color": {"field": "s", "type": "nominal", "legend": null}
     }},
    {"data": {"name": "lb"},
     "mark": {"type": "text", "align": "left", "baseline": "alphabetic", "fontSize": 28, "color": "#000"},
     "encoding": {"x": {"datum": 8.4}, "y": {"datum": 0.364}, "text": {"field": "n", "type": "nominal"}}}
  ]
},
{
  "width": 352.3, "height": 175.7,
  "data": {"name": "lg"},
  "encoding": {
    "x": {"field": "g", "type": "nominal", "scale": {"type": "point", "padding": 0}, "axis": null},
    "y": {"field": "r", "type": "ordinal", "scale": {"type": "point", "padding": 0.483, "align": 1}, "axis": null}
  },
  "layer": [
    {"mark": {"type": "point", "shape": "M-1,0L1,0", "size": 1681, "strokeWidth": 4.5, "filled": false, "opacity": 1, "xOffset": -96.5},
     "encoding": {"color": {"field": "s", "type": "nominal", "scale": {"domain": ["c1","c2","c3","c4","k1","k2","k3","k4"], "range": ["#0a22e0","#159a45","#b0b0b0","#6e3b9e","#6b3f1f","#ee1c1c","#f09a5a","#ff33ff"]}, "legend": null}}},
    {"mark": {"type": "text", "align": "left", "baseline": "middle", "dx": -53.3, "fontSize": 22, "lineBreak": "\n", "lineHeight": 29, "color": "#000"},
     "encoding": {"text": {"field": "label"}}}
  ]
}
]
}
